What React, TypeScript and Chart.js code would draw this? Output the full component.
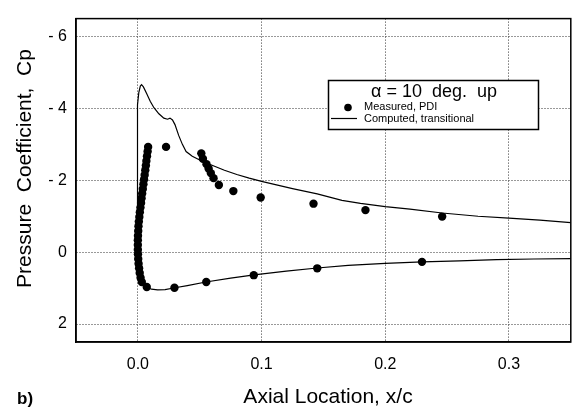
import React, { useEffect, useRef } from 'react';
import { Chart, registerables } from 'chart.js';

Chart.register(...registerables);

// ---- Data ----
const measuredX = [
  0.0083, 0.0079, 0.0074, 0.0069, 0.0065, 0.006, 0.0055, 0.005, 0.0045, 0.004,
  0.0035, 0.003, 0.0026, 0.0021, 0.0016, 0.0012, 0.0008, 0.0005, 0.0003, 0.0001,
  0.0, 0.0, 0.0, 0.0001, 0.0003, 0.0006, 0.001, 0.0015, 0.0022, 0.0032, 0.0072,
  0.0228,
  0.0513, 0.0526, 0.0555, 0.0572, 0.059, 0.0612, 0.0655,
  0.0772, 0.0993, 0.142, 0.184, 0.246,
  0.0296, 0.0553, 0.0937, 0.145, 0.2297,
];
const measuredCp = [
  -2.93, -2.8, -2.67, -2.54, -2.41, -2.28, -2.15, -2.02, -1.89, -1.76,
  -1.63, -1.5, -1.37, -1.24, -1.11, -0.98, -0.85, -0.72, -0.59, -0.46,
  -0.33, -0.2, -0.07, 0.06, 0.19, 0.32, 0.45, 0.58, 0.71, 0.83, 0.97,
  -2.93,
  -2.75, -2.6, -2.45, -2.33, -2.2, -2.06, -1.87,
  -1.7, -1.52, -1.35, -1.17, -0.99,
  0.99, 0.83, 0.64, 0.45, 0.27,
];
const computedX = [
  0.35, 0.32, 0.29, 0.26, 0.23, 0.2, 0.17, 0.145, 0.12, 0.094, 0.075, 0.055, 0.04,
  0.03, 0.022, 0.016, 0.011, 0.007, 0.0045, 0.0028, 0.0015, 0.0006, 0.0001,
  -0.0003, -0.0004, -0.0004, -0.0003, 0.0, 0.0008, 0.002, 0.003, 0.0045, 0.007,
  0.01, 0.013, 0.017, 0.021, 0.024, 0.026, 0.028, 0.03, 0.033, 0.036, 0.039,
  0.044, 0.052, 0.06, 0.07, 0.08, 0.09, 0.1, 0.125, 0.145, 0.155, 0.165, 0.18,
  0.2, 0.22, 0.246, 0.275, 0.3, 0.325, 0.35,
];
const computedCp = [
  0.18, 0.19, 0.21, 0.24, 0.27, 0.31, 0.37, 0.44, 0.53, 0.63, 0.72, 0.83, 0.93,
  0.99, 1.04, 1.05, 1.03, 0.97, 0.88, 0.72, 0.5, 0.25, 0.0,
  -0.5, -1.5, -2.5, -3.5, -4.1, -4.45, -4.62, -4.66, -4.6, -4.42,
  -4.2, -4.02, -3.85, -3.73, -3.7, -3.73, -3.68, -3.55, -3.25, -3.0, -2.8,
  -2.67, -2.53, -2.42, -2.28, -2.16, -2.06, -1.97, -1.77, -1.62, -1.53, -1.44, -1.36,
  -1.27, -1.2, -1.09, -1.0, -0.95, -0.89, -0.82,
];

const xTickValues = [0, 0.1, 0.2, 0.3];
const xTickLabels = ['0.0', '0.1', '0.2', '0.3'];
const yTickValues = [-6, -4, -2, 0, 2];
const yTickLabels = ['- 6', '- 4', '- 2', '0', '2'];

const xTitle = 'Axial Location, x/c';
const yTitle = 'Pressure  Coefficient,  Cp';
const legendTitle = 'α = 10  deg.  up';
const seriesNames = ['Measured, PDI', 'Computed, transitional'];
const panelLabel = 'b)';

const FONT = '"Liberation Sans", Arial, Helvetica, sans-serif';

const decorPlugin = {
  id: 'decor',
  beforeDatasetsDraw(chart: any) {
    const { ctx, chartArea } = chart;
    ctx.save();
    ctx.strokeStyle = '#000';
    ctx.lineWidth = 1.5;
    ctx.strokeRect(chartArea.left, chartArea.top, chartArea.right - chartArea.left, chartArea.bottom - chartArea.top);
    ctx.restore();
  },
  afterDraw(chart: any) {
    const { ctx } = chart;
    ctx.save();
    ctx.fillStyle = '#000';
    // y title
    ctx.save();
    ctx.translate(31, 168.5);
    ctx.rotate(-Math.PI / 2);
    ctx.font = `21px ${FONT}`;
    ctx.textAlign = 'center';
    ctx.textBaseline = 'alphabetic';
    ctx.fillText(yTitle, 0, 0);
    ctx.restore();
    // x title
    ctx.font = `21px ${FONT}`;
    ctx.textAlign = 'center';
    ctx.textBaseline = 'alphabetic';
    ctx.fillText(xTitle, 328, 403);
    // panel label
    ctx.font = `bold 17px ${FONT}`;
    ctx.textAlign = 'left';
    ctx.fillText(panelLabel, 17, 404);
    // legend box
    ctx.fillStyle = '#fff';
    ctx.fillRect(328.5, 80.5, 210, 49);
    ctx.strokeStyle = '#000';
    ctx.lineWidth = 1.5;
    ctx.strokeRect(328.5, 80.5, 210, 49);
    ctx.fillStyle = '#000';
    ctx.font = `18px ${FONT}`;
    ctx.textAlign = 'center';
    ctx.fillText(legendTitle, 434, 97);
    ctx.beginPath();
    ctx.arc(348, 107.5, 3.8, 0, Math.PI * 2);
    ctx.fill();
    ctx.beginPath();
    ctx.moveTo(331, 118.5);
    ctx.lineTo(357, 118.5);
    ctx.lineWidth = 1.2;
    ctx.stroke();
    ctx.font = `11px ${FONT}`;
    ctx.textAlign = 'left';
    ctx.textBaseline = 'middle';
    ctx.fillText(seriesNames[0], 364, 107);
    ctx.fillText(seriesNames[1], 364, 118.5);
    ctx.restore();
  },
};

export default function App() {
  const ref = useRef<HTMLCanvasElement | null>(null);
  useEffect(() => {
    if (!ref.current) return;
    const chart = new Chart(ref.current, {
      type: 'scatter',
      data: {
        datasets: [
          {
            label: seriesNames[0],
            data: measuredX.map((x, i) => ({ x, y: measuredCp[i] })),
            pointRadius: 4.2,
            pointBackgroundColor: '#000',
            pointBorderWidth: 0,
            showLine: false,
            order: 0,
          },
          {
            label: seriesNames[1],
            data: computedX.map((x, i) => ({ x, y: computedCp[i] })),
            showLine: true,
            pointRadius: 0,
            borderColor: '#000',
            borderWidth: 1.2,
            tension: 0,
            order: 1,
          },
        ],
      },
      options: {
        animation: false,
        responsive: true,
        maintainAspectRatio: false,
        layout: { padding: { left: 0, top: 9, right: 2, bottom: 0 } },
        plugins: { legend: { display: false }, tooltip: { enabled: false } },
        scales: {
          x: {
            type: 'linear',
            min: -0.05,
            max: 0.35,
            afterBuildTicks: (s: any) => { s.ticks = xTickValues.map((v) => ({ value: v })); },
            afterFit: (s: any) => { s.height = 71; },
            ticks: {
              callback: (v: any) => xTickLabels[xTickValues.indexOf(Number(v))] ?? '',
              font: { size: 16, family: FONT },
              color: '#000',
              padding: 13,
              maxRotation: 0,
              autoSkip: false,
            },
            grid: { color: '#333', lineWidth: 1, drawTicks: false },
            border: { display: true, color: '#000', width: 1.5, dash: [1, 2] },
          },
          y: {
            type: 'linear',
            reverse: true,
            min: -6.5,
            max: 2.5,
            afterBuildTicks: (s: any) => { s.ticks = yTickValues.map((v) => ({ value: v })); },
            afterFit: (s: any) => { s.width = 76; },
            ticks: {
              callback: (v: any) => yTickLabels[yTickValues.indexOf(Number(v))] ?? '',
              font: { size: 16, family: FONT },
              color: '#000',
              padding: 9,
              autoSkip: false,
            },
            grid: { color: '#333', lineWidth: 1, drawTicks: false },
            border: { display: true, color: '#000', width: 1.5, dash: [1, 2] },
          },
        },
      },
      plugins: [decorPlugin],
    } as any);
    return () => chart.destroy();
  }, []);
  return (
    <div style={{ position: 'absolute', left: 0, top: 0, width: 575, height: 413, background: '#fff' }}>
      <canvas ref={ref} />
    </div>
  );
}
